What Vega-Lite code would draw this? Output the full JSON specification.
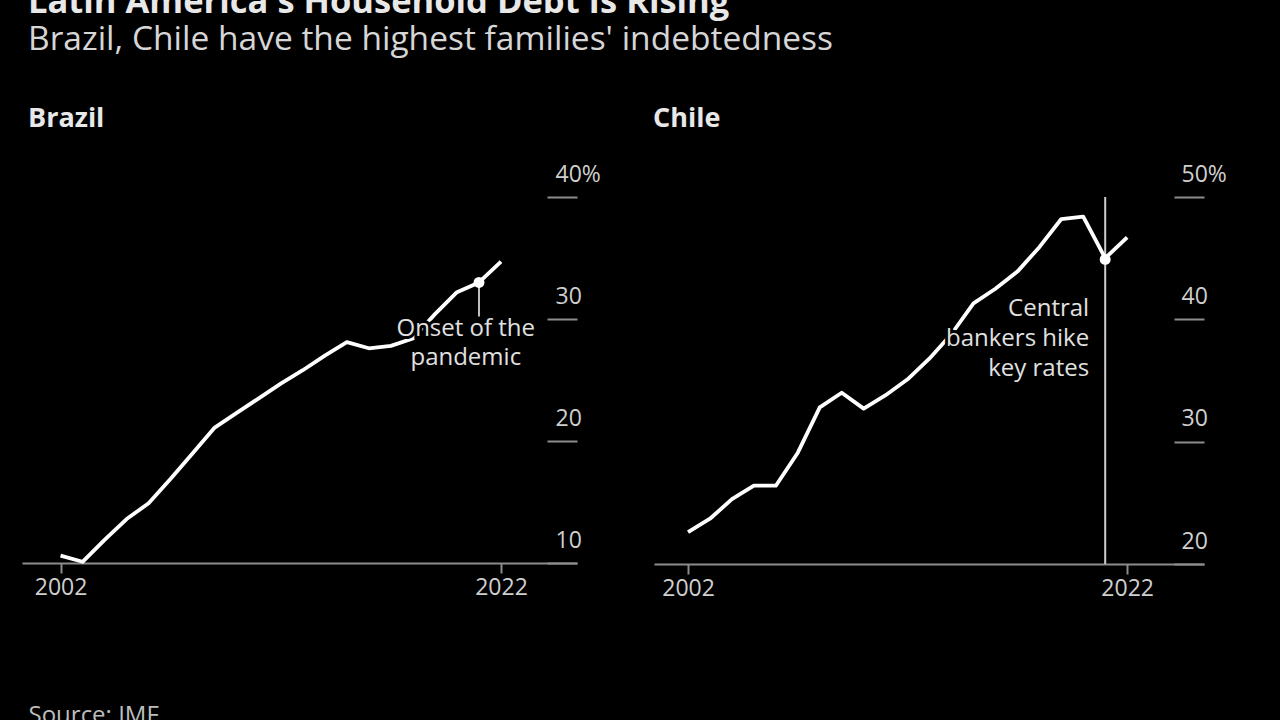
{
  "$schema": "https://vega.github.io/schema/vega-lite/v6.json",
  "background": "#000000",
  "padding": {"left": 22, "top": -15, "right": 80, "bottom": 40},
  "bounds": "flush",
  "spacing": 77,
  "title": {
    "text": "Latin America's Household Debt Is Rising",
    "subtitle": "Brazil, Chile have the highest families' indebtedness",
    "anchor": "start",
    "font": "Open Sans",
    "fontSize": 34.5,
    "fontWeight": "bold",
    "color": "#e8e8e8",
    "subtitleFont": "Open Sans",
    "subtitleFontSize": 33.5,
    "subtitleColor": "#d6d6d6",
    "subtitlePadding": 3,
    "offset": 48,
    "dx": 6
  },
  "config": {
    "view": {"stroke": null},
    "font": "Open Sans",
    "axis": {
      "labelFont": "Open Sans",
      "labelFontSize": 23,
      "labelColor": "#cfcfcf",
      "tickColor": "#8c8c8c",
      "domainColor": "#8c8c8c",
      "grid": false
    }
  },
  "hconcat": [
    {
      "width": 555,
      "height": 366,
      "title": {"text": "Brazil", "anchor": "start", "fontSize": 27, "fontWeight": "bold", "color": "#e8e8e8", "font": "Open Sans", "dx": 6, "offset": 30},
      "layer": [
        {
          "data": {"values": [
            {"year": 2002, "value": 10.6}, {"year": 2003, "value": 10.1}, {"year": 2004, "value": 11.9},
            {"year": 2005, "value": 13.6}, {"year": 2006, "value": 14.9}, {"year": 2007, "value": 16.9},
            {"year": 2008, "value": 19.0}, {"year": 2009, "value": 21.1}, {"year": 2010, "value": 22.3},
            {"year": 2011, "value": 23.5}, {"year": 2012, "value": 24.7}, {"year": 2013, "value": 25.8},
            {"year": 2014, "value": 27.0}, {"year": 2015, "value": 28.1}, {"year": 2016, "value": 27.6},
            {"year": 2017, "value": 27.8}, {"year": 2018, "value": 28.4}, {"year": 2019, "value": 30.4},
            {"year": 2020, "value": 32.2}, {"year": 2021, "value": 33.0}, {"year": 2022, "value": 34.7}
          ]},
          "mark": {"type": "line", "color": "#ffffff", "strokeWidth": 3.8, "strokeJoin": "round"},
          "encoding": {
            "x": {"field": "year", "type": "quantitative",
              "scale": {"domain": [2000.25, 2025.45], "nice": false, "zero": false},
              "axis": {"values": [2002, 2022], "format": "d", "domainWidth": 2, "tickWidth": 2, "tickSize": 10, "labelPadding": 3,
                "title": "Source: IMF", "titleAnchor": "start", "titleAlign": "left", "titleX": 6, "titleY": 140, "titleBaseline": "top",
                "titleFont": "Open Sans", "titleFontSize": 24, "titleFontWeight": "normal", "titleColor": "#bdbdbd"}},
            "y": {"field": "value", "type": "quantitative",
              "scale": {"domain": [10, 40], "nice": false, "zero": false},
              "axis": {"orient": "right", "values": [10, 20, 30, 40], "domain": false, "tickSize": -30, "tickWidth": 2,
                "labelAlign": "left", "labelPadding": 8, "labelBaseline": "alphabetic", "labelOffset": -16,
                "labelExpr": "datum.value == 40 ? '40%' : datum.label", "title": null}}
          }
        },
        {
          "data": {"values": [{"year": 2021, "y1": 33.0, "y2": 30.2}]},
          "mark": {"type": "rule", "color": "#ffffff", "strokeWidth": 1.5},
          "encoding": {"x": {"field": "year", "type": "quantitative"}, "y": {"field": "y1", "type": "quantitative"}, "y2": {"field": "y2"}}
        },
        {
          "data": {"values": [{"year": 2021, "value": 33.0}]},
          "mark": {"type": "point", "filled": true, "color": "#ffffff", "size": 120, "opacity": 1},
          "encoding": {"x": {"field": "year", "type": "quantitative"}, "y": {"field": "value", "type": "quantitative"}}
        },
        {
          "data": {"values": [{"year": 2020.4, "value": 28.6, "label": ["Onset of the", "pandemic"]}]},
          "mark": {"type": "text", "align": "center", "baseline": "alphabetic", "fontSize": 24, "lineHeight": 29, "font": "Open Sans", "fill": "#000000", "stroke": "#000000", "strokeWidth": 6},
          "encoding": {"x": {"field": "year", "type": "quantitative"}, "y": {"field": "value", "type": "quantitative"}, "text": {"field": "label"}}
        },
        {
          "data": {"values": [{"year": 2020.4, "value": 28.6, "label": ["Onset of the", "pandemic"]}]},
          "mark": {"type": "text", "align": "center", "baseline": "alphabetic", "fontSize": 24, "lineHeight": 29, "font": "Open Sans", "color": "#e0e0e0"},
          "encoding": {"x": {"field": "year", "type": "quantitative"}, "y": {"field": "value", "type": "quantitative"}, "text": {"field": "label"}}
        }
      ]
    },
    {
      "width": 550,
      "height": 367,
      "title": {"text": "Chile", "anchor": "start", "fontSize": 27, "fontWeight": "bold", "color": "#e8e8e8", "font": "Open Sans", "dx": -1, "offset": 30},
      "layer": [
        {
          "data": {"values": [{"year": 2021, "y1": 20, "y2": 50}]},
          "mark": {"type": "rule", "color": "#cccccc", "strokeWidth": 2},
          "encoding": {
            "x": {"field": "year", "type": "quantitative",
              "scale": {"domain": [2000.45, 2025.5], "nice": false, "zero": false},
              "axis": {"values": [2002, 2022], "format": "d", "domainWidth": 2, "tickWidth": 2, "tickSize": 10, "labelPadding": 3, "title": null}},
            "y": {"field": "y1", "type": "quantitative",
              "scale": {"domain": [20, 50], "nice": false, "zero": false},
              "axis": {"orient": "right", "values": [20, 30, 40, 50], "domain": false, "tickSize": -30, "tickWidth": 2,
                "labelAlign": "left", "labelPadding": 7, "labelBaseline": "alphabetic", "labelOffset": -16,
                "labelExpr": "datum.value == 50 ? '50%' : datum.label", "title": null}},
            "y2": {"field": "y2"}
          }
        },
        {
          "data": {"values": [
            {"year": 2002, "value": 22.6}, {"year": 2003, "value": 23.7}, {"year": 2004, "value": 25.3},
            {"year": 2005, "value": 26.4}, {"year": 2006, "value": 26.4}, {"year": 2007, "value": 29.1},
            {"year": 2008, "value": 32.8}, {"year": 2009, "value": 34.0}, {"year": 2010, "value": 32.7},
            {"year": 2011, "value": 33.8}, {"year": 2012, "value": 35.1}, {"year": 2013, "value": 36.8},
            {"year": 2014, "value": 38.8}, {"year": 2015, "value": 41.3}, {"year": 2016, "value": 42.5},
            {"year": 2017, "value": 43.9}, {"year": 2018, "value": 45.9}, {"year": 2019, "value": 48.2},
            {"year": 2020, "value": 48.4}, {"year": 2021, "value": 45.0}, {"year": 2022, "value": 46.7}
          ]},
          "mark": {"type": "line", "color": "#ffffff", "strokeWidth": 3.8, "strokeJoin": "round"},
          "encoding": {"x": {"field": "year", "type": "quantitative"}, "y": {"field": "value", "type": "quantitative"}}
        },
        {
          "data": {"values": [{"year": 2021, "value": 44.9}]},
          "mark": {"type": "point", "filled": true, "color": "#ffffff", "size": 120, "opacity": 1},
          "encoding": {"x": {"field": "year", "type": "quantitative"}, "y": {"field": "value", "type": "quantitative"}}
        },
        {
          "data": {"values": [{"year": 2020.27, "value": 40.3, "label": ["Central", "bankers hike", "key rates"]}]},
          "mark": {"type": "text", "align": "right", "baseline": "alphabetic", "fontSize": 24, "lineHeight": 30, "font": "Open Sans", "fill": "#000000", "stroke": "#000000", "strokeWidth": 6},
          "encoding": {"x": {"field": "year", "type": "quantitative"}, "y": {"field": "value", "type": "quantitative"}, "text": {"field": "label"}}
        },
        {
          "data": {"values": [{"year": 2020.27, "value": 40.3, "label": ["Central", "bankers hike", "key rates"]}]},
          "mark": {"type": "text", "align": "right", "baseline": "alphabetic", "fontSize": 24, "lineHeight": 30, "font": "Open Sans", "color": "#e0e0e0"},
          "encoding": {"x": {"field": "year", "type": "quantitative"}, "y": {"field": "value", "type": "quantitative"}, "text": {"field": "label"}}
        }
      ]
    }
  ]
}
